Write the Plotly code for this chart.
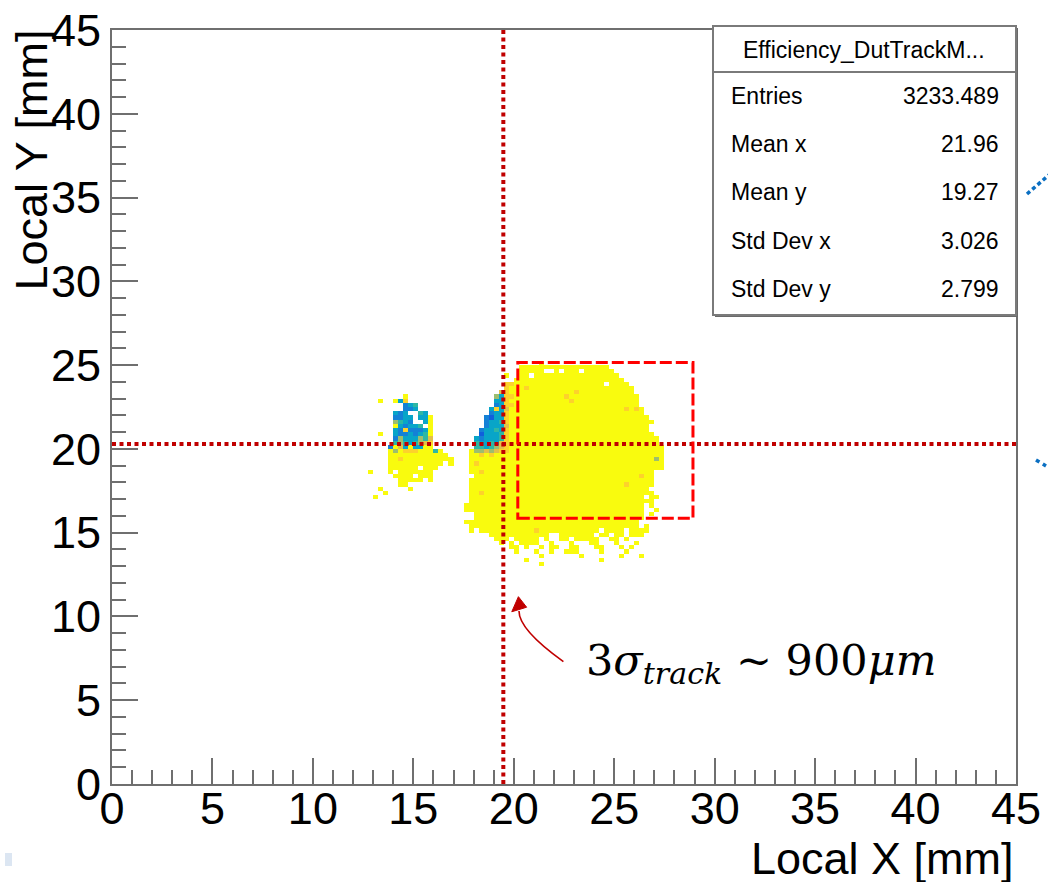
import plotly.graph_objects as go

# ---------------- histogram binning ----------------
BIN_MM = 0.25
N_BINS = 180  # 0 .. 45 mm on both axes

# efficiency value behind each level code of the bin table
EFF_LEVELS = {"Y": 1.00, "o": 0.90, "l": 0.80, "g": 0.66,
              "G": 0.50, "t": 0.38, "b": 0.25, "B": 0.14}

# filled bins of the side cluster: (y bin, [(first x bin, last x bin, level), ...])
SIDE_ROWS = [
    (92, [(58, 58, "Y")]),
    (91, [(53, 53, "Y"), (56, 56, "Y"), (57, 57, "t"), (58, 58, "o")]),
    (90, [(58, 58, "b"), (59, 59, "t"), (60, 60, "G")]),
    (89, [(58, 59, "b"), (60, 60, "t")]),
    (88, [(56, 56, "t"), (57, 57, "b"), (58, 58, "t"), (61, 61, "G"), (62, 62, "t")]),
    (87, [(56, 57, "b"), (58, 59, "t"), (61, 62, "t"), (63, 63, "Y")]),
    (86, [(56, 56, "g"), (57, 57, "G"), (58, 58, "t"), (59, 59, "b"), (62, 62, "t"), (63, 63, "Y")]),
    (85, [(56, 56, "Y"), (57, 57, "t"), (58, 58, "b"), (59, 60, "t"), (61, 61, "G"), (63, 63, "Y")]),
    (84, [(56, 56, "t"), (57, 57, "b"), (58, 58, "o"), (59, 61, "b"), (62, 62, "t"), (63, 63, "Y")]),
    (83, [(53, 53, "Y"), (56, 56, "t"), (57, 58, "b"), (59, 59, "t"), (60, 60, "b"), (61, 61, "t"),
          (62, 62, "G"), (63, 63, "Y")]),
    (82, [(56, 56, "b"), (57, 57, "g"), (58, 60, "t"), (61, 61, "g"), (62, 62, "G"), (63, 63, "l")]),
    (81, [(56, 56, "G"), (57, 57, "g"), (58, 58, "G"), (59, 59, "t"), (60, 60, "G"), (61, 61, "g"),
          (62, 62, "l"), (63, 63, "o")]),
    (80, [(55, 55, "b"), (56, 56, "Y"), (57, 57, "l"), (58, 58, "t"), (59, 59, "Y"), (60, 61, "t"),
          (62, 63, "Y")]),
    (79, [(55, 55, "Y"), (56, 56, "g"), (57, 57, "Y"), (58, 60, "o"), (61, 63, "Y"), (64, 64, "G"),
          (65, 65, "Y")]),
    (78, [(55, 66, "Y")]),
    (77, [(55, 56, "Y"), (57, 57, "o"), (58, 67, "Y")]),
    (76, [(55, 65, "Y"), (67, 67, "Y")]),
    (75, [(55, 60, "Y"), (62, 64, "Y")]),
    (74, [(51, 51, "Y"), (55, 55, "Y"), (57, 63, "Y")]),
    (73, [(56, 59, "Y"), (61, 63, "Y")]),
    (72, [(57, 61, "Y"), (63, 63, "Y")]),
    (71, [(57, 58, "Y")]),
    (70, [(53, 53, "Y"), (59, 59, "Y")]),
    (69, [(54, 54, "Y")]),
    (68, [(52, 52, "Y")]),
]

# filled bins of the main spot
MAIN_ROWS = [
    (100, [(85, 85, "Y")]),
    (99, [(81, 98, "Y")]),
    (98, [(81, 85, "Y"), (88, 88, "Y"), (90, 92, "Y"), (94, 99, "Y")]),
    (97, [(78, 78, "Y"), (81, 82, "Y"), (84, 100, "Y")]),
    (96, [(80, 101, "Y")]),
    (95, [(78, 79, "o"), (80, 97, "Y"), (99, 102, "Y")]),
    (94, [(78, 78, "o"), (79, 81, "Y"), (82, 82, "o"), (83, 103, "Y")]),
    (93, [(77, 77, "l"), (78, 78, "o"), (79, 91, "Y"), (92, 92, "o"), (93, 103, "Y")]),
    (92, [(76, 76, "g"), (77, 77, "t"), (78, 79, "o"), (80, 89, "Y"), (90, 90, "o"), (91, 104, "Y")]),
    (91, [(76, 77, "t"), (78, 78, "o"), (79, 90, "Y"), (91, 91, "o"), (92, 104, "Y")]),
    (90, [(76, 76, "b"), (77, 77, "t"), (78, 79, "o"), (80, 104, "Y")]),
    (89, [(75, 75, "t"), (76, 76, "o"), (77, 77, "t"), (78, 78, "l"), (79, 101, "Y"), (102, 102, "o"),
          (103, 103, "Y"), (104, 104, "o"), (105, 105, "Y")]),
    (88, [(75, 75, "b"), (76, 77, "t"), (78, 78, "o"), (79, 105, "Y")]),
    (87, [(74, 74, "b"), (75, 75, "B"), (76, 77, "t"), (78, 78, "o"), (79, 106, "Y")]),
    (86, [(74, 74, "b"), (75, 76, "t"), (77, 77, "G"), (78, 78, "o"), (79, 107, "Y")]),
    (85, [(74, 74, "b"), (75, 77, "t"), (78, 78, "l"), (79, 106, "Y")]),
    (84, [(73, 73, "b"), (74, 75, "t"), (76, 76, "G"), (77, 77, "t"), (78, 78, "o"), (79, 106, "Y")]),
    (83, [(73, 73, "B"), (74, 76, "t"), (77, 77, "G"), (78, 78, "o"), (79, 107, "Y")]),
    (82, [(72, 72, "t"), (73, 73, "b"), (74, 76, "t"), (77, 77, "G"), (78, 78, "o"), (79, 108, "Y")]),
    (81, [(72, 72, "G"), (73, 74, "t"), (75, 75, "G"), (76, 76, "t"), (77, 77, "l"), (78, 78, "o"),
          (79, 108, "Y")]),
    (80, [(72, 73, "G"), (74, 74, "t"), (75, 75, "G"), (76, 76, "g"), (77, 77, "l"), (78, 78, "o"),
          (79, 109, "Y")]),
    (79, [(71, 71, "Y"), (72, 73, "g"), (74, 74, "l"), (75, 75, "g"), (76, 76, "l"), (77, 78, "o"),
          (79, 109, "Y")]),
    (78, [(71, 72, "Y"), (73, 73, "o"), (74, 74, "Y"), (75, 75, "o"), (76, 109, "Y")]),
    (77, [(71, 107, "Y"), (108, 108, "g"), (109, 109, "Y")]),
    (76, [(71, 71, "Y"), (72, 72, "o"), (73, 109, "Y")]),
    (75, [(71, 109, "Y")]),
    (74, [(71, 72, "Y"), (73, 73, "o"), (74, 107, "Y")]),
    (73, [(72, 104, "Y"), (105, 105, "o"), (106, 107, "Y")]),
    (72, [(71, 107, "Y")]),
    (71, [(71, 101, "Y"), (102, 102, "o"), (103, 107, "Y")]),
    (70, [(71, 106, "Y")]),
    (69, [(71, 72, "Y"), (73, 73, "o"), (74, 107, "Y")]),
    (68, [(71, 105, "Y"), (107, 108, "Y")]),
    (67, [(71, 107, "Y")]),
    (66, [(70, 105, "Y"), (107, 107, "Y")]),
    (65, [(70, 105, "Y"), (108, 108, "Y")]),
    (64, [(72, 105, "Y"), (107, 107, "Y")]),
    (63, [(72, 105, "Y")]),
    (62, [(70, 104, "Y")]),
    (61, [(71, 104, "Y"), (106, 106, "Y")]),
    (60, [(71, 71, "Y"), (73, 83, "Y"), (84, 84, "o"), (85, 96, "Y"), (98, 101, "Y"), (103, 106, "Y")]),
    (59, [(75, 86, "Y"), (89, 95, "Y"), (97, 98, "Y"), (100, 101, "Y"), (103, 105, "Y")]),
    (58, [(76, 78, "Y"), (80, 84, "Y"), (86, 86, "Y"), (89, 90, "Y"), (92, 96, "Y"), (99, 100, "Y"),
          (102, 102, "Y")]),
    (57, [(77, 77, "Y"), (79, 79, "Y"), (81, 84, "Y"), (87, 87, "Y"), (91, 91, "Y"), (95, 96, "Y"),
          (100, 100, "Y"), (104, 104, "Y")]),
    (56, [(79, 80, "Y"), (82, 82, "Y"), (85, 85, "Y"), (87, 88, "Y"), (91, 92, "Y"), (96, 97, "Y"),
          (101, 101, "Y"), (103, 103, "Y")]),
    (55, [(80, 80, "Y"), (84, 84, "Y"), (87, 87, "Y"), (90, 92, "Y"), (97, 97, "Y"), (102, 102, "Y")]),
    (54, [(85, 85, "Y"), (93, 93, "Y"), (101, 101, "Y"), (105, 105, "Y")]),
    (53, [(82, 82, "Y"), (97, 97, "Y")]),
    (52, [(85, 85, "Y")]),
]

# ---------------- statistics box ----------------
STATS_TITLE = "Efficiency_DutTrackM..."
STATS_LABELS = ["Entries", "Mean x", "Mean y", "Std Dev x", "Std Dev y"]
STATS_VALUES = ["3233.489", "21.96", "19.27", "3.026", "2.799"]

# ---------------- overlay markers (mm) ----------------
TRACK_X = 19.48           # vertical dotted line
TRACK_Y = 20.29           # horizontal dotted line
ROI_X = (20.20, 28.92)    # dashed region of interest
ROI_Y = (15.86, 25.15)
AXIS_MAX = 45
TICK_LABELS = [str(v) for v in range(0, 50, 5)]

# ROOT kBird palette
BIRD_STOPS = [0.0, 0.125, 0.25, 0.375, 0.5, 0.625, 0.75, 0.875, 1.0]
BIRD_R = [0.2082, 0.0592, 0.0780, 0.0232, 0.1802, 0.5301, 0.8186, 0.9956, 0.9764]
BIRD_G = [0.1664, 0.3599, 0.5041, 0.6419, 0.7178, 0.7492, 0.7328, 0.7862, 0.9832]
BIRD_B = [0.5293, 0.8684, 0.8385, 0.7914, 0.6425, 0.4662, 0.3499, 0.1968, 0.0539]
bird = [[s, "rgb(%d,%d,%d)" % (round(r * 255), round(g * 255), round(b * 255))]
        for s, r, g, b in zip(BIRD_STOPS, BIRD_R, BIRD_G, BIRD_B)]

# ---------------- page geometry ----------------
W, H = 1048, 882
ML, MR, MT, MB = 112, 32, 30, 98
PW, PH = W - ML - MR, H - MT - MB


def paper_x(px):
    return (px - ML) / PW


def paper_y(py):
    return (H - MB - py) / PH


# ---------------- histogram ----------------
z = [[None] * N_BINS for _ in range(N_BINS)]
for table in (SIDE_ROWS, MAIN_ROWS):
    for iy, segs in table:
        for ix0, ix1, code in segs:
            for ix in range(ix0, ix1 + 1):
                z[iy][ix] = EFF_LEVELS[code]
centers = [BIN_MM * (i + 0.5) for i in range(N_BINS)]

fig = go.Figure()
fig.add_trace(go.Heatmap(
    x=centers, y=centers, z=z, colorscale=bird, zmin=0, zmax=1,
    showscale=False, hoverongaps=False, zsmooth=False,
))

FRAME = "#6f6f6f"
SANS = "Liberation Sans, Arial, Helvetica, sans-serif"
axis_style = dict(
    range=[0, AXIS_MAX], tickmode="array", automargin=False,
    tickvals=[int(t) for t in TICK_LABELS], ticktext=TICK_LABELS,
    ticks="inside", ticklen=26, tickwidth=2, tickcolor=FRAME,
    minor=dict(dtick=1, tick0=0, ticks="inside", ticklen=14, tickwidth=2, tickcolor=FRAME),
    showline=True, linecolor=FRAME, linewidth=2, mirror=True,
    showgrid=False, zeroline=False,
    tickfont=dict(family=SANS, size=45, color="black"),
)
fig.update_xaxes(**axis_style, ticklabelstandoff=-16)
fig.update_yaxes(**axis_style, ticklabelstandoff=0)

shapes = []
DARK_RED = "#c00000"
# dotted track-position lines
shapes.append(dict(type="line", xref="x", yref="y", x0=TRACK_X, x1=TRACK_X, y0=0, y1=AXIS_MAX,
                   line=dict(color=DARK_RED, width=4, dash="4px,3.5px")))
shapes.append(dict(type="line", xref="x", yref="y", x0=0, x1=AXIS_MAX, y0=TRACK_Y, y1=TRACK_Y,
                   line=dict(color=DARK_RED, width=4, dash="4px,3.5px")))
# dashed region of interest
shapes.append(dict(type="rect", xref="x", yref="y", x0=ROI_X[0], x1=ROI_X[1], y0=ROI_Y[0], y1=ROI_Y[1],
                   line=dict(color="#ff0000", width=3, dash="12px,4px")))
# curved arrow pointing at the vertical line
shapes.append(dict(type="path", xref="x", yref="y",
                   path="M 22.47,7.30 Q 20.25,9.21 20.26,10.32",
                   line=dict(color=DARK_RED, width=1.6)))
shapes.append(dict(type="path", xref="x", yref="y",
                   path="M 20.23,11.18 L 19.90,10.28 L 20.64,10.55 Z",
                   fillcolor=DARK_RED, line=dict(color=DARK_RED, width=1)))

# statistics box with shadow
shapes.append(dict(type="rect", xref="paper", yref="paper",
                   x0=paper_x(715), x1=paper_x(1018), y0=paper_y(317), y1=paper_y(28),
                   fillcolor="#6a6a6a", line=dict(width=0)))
shapes.append(dict(type="rect", xref="paper", yref="paper",
                   x0=paper_x(713), x1=paper_x(1016), y0=paper_y(315), y1=paper_y(26),
                   fillcolor="white", line=dict(color="#7a7a7a", width=2)))
shapes.append(dict(type="line", xref="paper", yref="paper",
                   x0=paper_x(713), x1=paper_x(1016), y0=paper_y(72), y1=paper_y(72),
                   line=dict(color="#7a7a7a", width=2)))

# neighbouring slide elements at the page border
BLUE = "#0a6fc2"
shapes.append(dict(type="line", xref="paper", yref="paper",
                   x0=paper_x(1027), y0=paper_y(194), x1=paper_x(1050), y1=paper_y(174),
                   line=dict(color=BLUE, width=3.5, dash="4px,3px")))
shapes.append(dict(type="line", xref="paper", yref="paper",
                   x0=paper_x(1036), y0=paper_y(460), x1=paper_x(1046), y1=paper_y(466),
                   line=dict(color=BLUE, width=3.5, dash="4px,4px")))
shapes.append(dict(type="rect", xref="paper", yref="paper",
                   x0=paper_x(5), x1=paper_x(12), y0=paper_y(866), y1=paper_y(853),
                   fillcolor="#dce6f2", line=dict(width=0)))

annotations = []
annotations.append(dict(text=STATS_TITLE, xref="paper", yref="paper", x=paper_x(864), y=paper_y(50),
                        xanchor="center", yanchor="middle", showarrow=False,
                        font=dict(family=SANS, size=23, color="black")))
row_y = [96, 144, 192, 241, 289]
for lab, val, py in zip(STATS_LABELS, STATS_VALUES, row_y):
    annotations.append(dict(text=lab, xref="paper", yref="paper", x=paper_x(729), y=paper_y(py),
                            xanchor="left", yanchor="middle", showarrow=False,
                            font=dict(family=SANS, size=23, color="black")))
    annotations.append(dict(text=val, xref="paper", yref="paper", x=paper_x(1001), y=paper_y(py),
                            xanchor="right", yanchor="middle", showarrow=False,
                            font=dict(family=SANS, size=23, color="black")))

# axis titles, aligned to the axis ends
annotations.append(dict(text="Local X [mm]", xref="paper", yref="paper", x=paper_x(1016), y=paper_y(831),
                        xanchor="right", yanchor="top", showarrow=False,
                        font=dict(family=SANS, size=45, color="black")))
annotations.append(dict(text="Local Y [mm]", xref="paper", yref="paper", x=paper_x(31), y=paper_y(28),
                        xanchor="center", yanchor="top", textangle=-90, showarrow=False,
                        font=dict(family=SANS, size=45, color="black")))

# resolution label
annotations.append(dict(text="3<i>σ</i><sub><i>track</i></sub> ~ 900<i>μm</i>", xref="paper", yref="paper",
                        x=paper_x(584), y=paper_y(663), xanchor="left", yanchor="middle", showarrow=False,
                        font=dict(family="DejaVu Serif, Liberation Serif, serif", size=43, color="black")))

fig.update_layout(
    width=W, height=H, margin=dict(l=ML, r=MR, t=MT, b=MB, autoexpand=False),
    plot_bgcolor="white", paper_bgcolor="white", showlegend=False,
    shapes=shapes, annotations=annotations,
)

fig.write_html("out.html")
